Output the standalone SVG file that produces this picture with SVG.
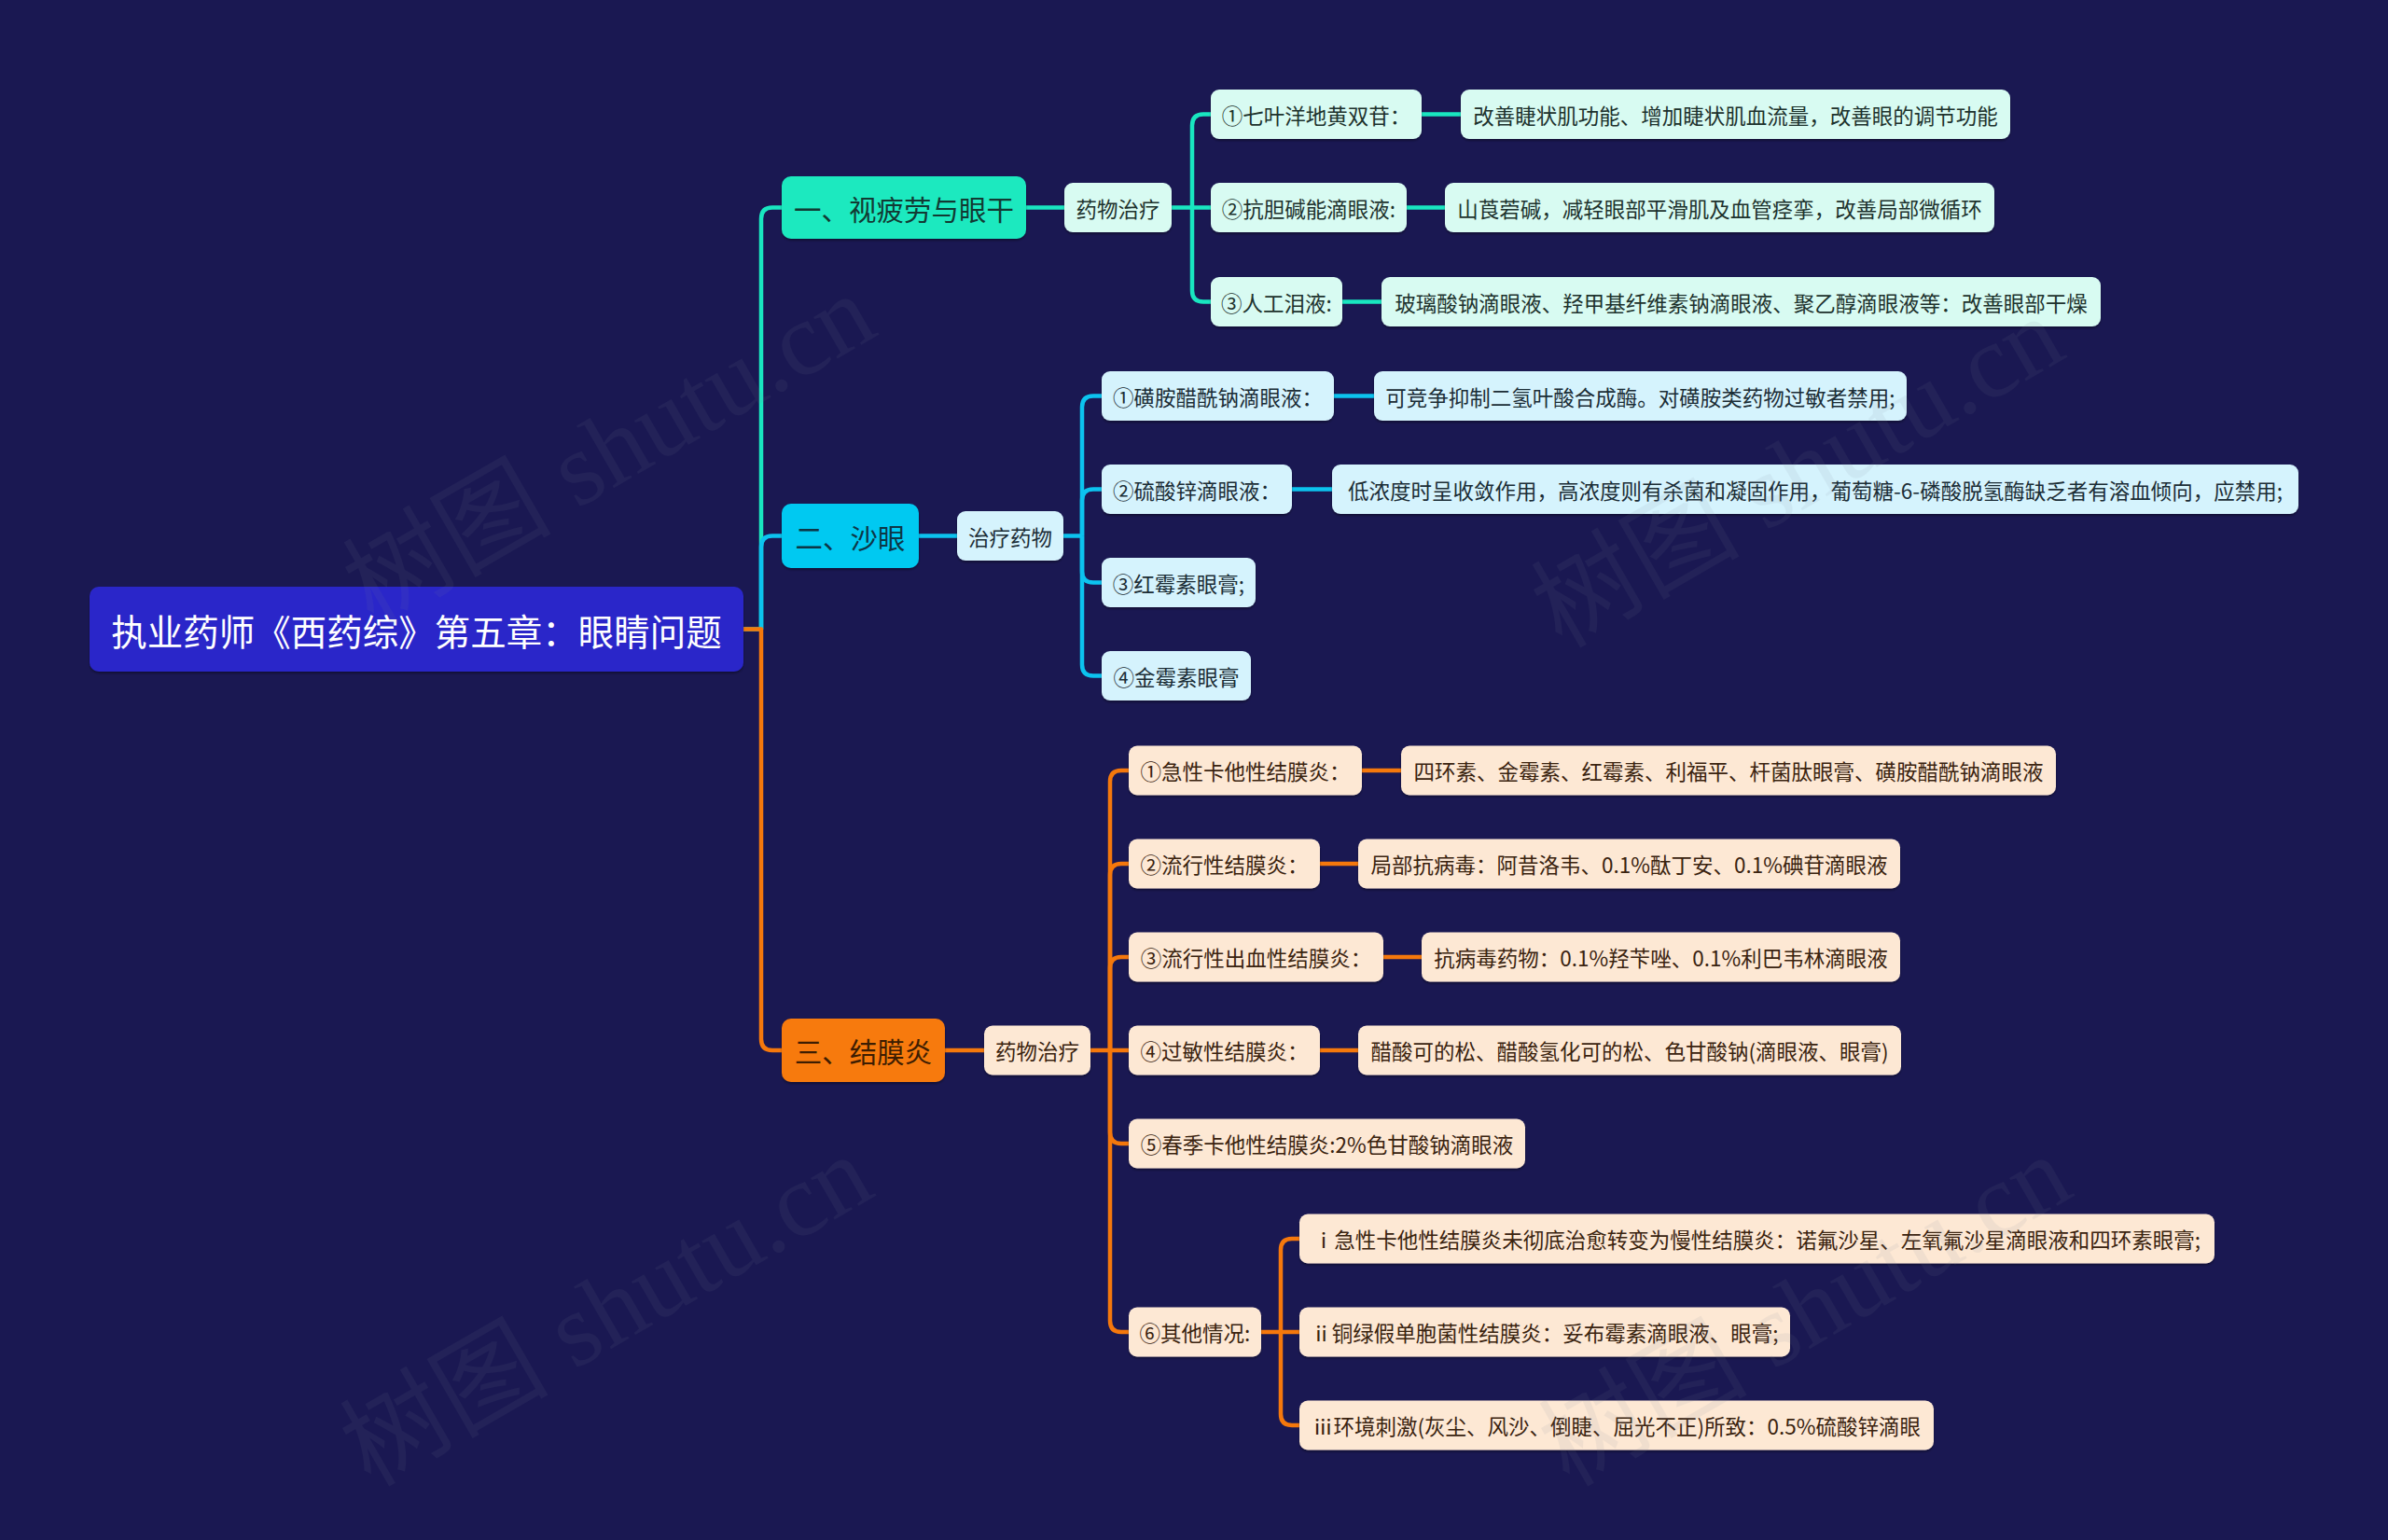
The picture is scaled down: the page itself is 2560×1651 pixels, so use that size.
<svg xmlns="http://www.w3.org/2000/svg" width="2560" height="1651" viewBox="0 0 2560 1651">
<defs>
<filter id="sh" x="-5%" y="-20%" width="110%" height="150%">
<feDropShadow dx="0" dy="2" stdDeviation="1.2" flood-color="#000" flood-opacity="0.35"/>
</filter>
<style>
text{font-family:"Noto Sans CJK SC","Noto Sans",sans-serif;text-anchor:middle;dominant-baseline:central}
.root rect{fill:#2b27c9}
.root text{fill:#ffffff;font-size:38.5px}
.l1 text{font-size:29.5px}
.n text{font-size:22.5px}
.b1 .l1 rect{fill:#1de9bf}.b1 .l1 text{fill:#123a33}
.b1 .n rect{fill:#d8fbf2}.b1 .n text{fill:#1d322d}
.b2 .l1 rect{fill:#04c9f1}.b2 .l1 text{fill:#0d3646}
.b2 .n rect{fill:#d5f3fd}.b2 .n text{fill:#1b2d36}
.b3 .l1 rect{fill:#f77a0b}.b3 .l1 text{fill:#3d1d02}
.b3 .n rect{fill:#fde8d4}.b3 .n text{fill:#3a230f}
.c path{fill:none;stroke-width:4.5;stroke-linecap:butt;stroke-linejoin:round}
.c1 path{stroke:#19e6c0}.c2 path{stroke:#0cc3ef}.c3 path{stroke:#f5780c}
.wm{font-family:"Liberation Serif","Noto Sans CJK SC",serif;font-size:112px;fill:#7a8496;opacity:0.09;text-anchor:middle;dominant-baseline:central}
</style>
</defs>
<rect x="0" y="0" width="2560" height="1651" fill="#1a1852"/>

<g id="connectors" class="c">
<g class="c1">
<path d="M797,674.5 H816 V234.5 Q816,222.5 828,222.5 H838"/>
<path d="M1100,222.5 H1141"/>
<path d="M1256,222.5 H1298"/>
<path d="M1278,222.5 V134.5 Q1278,122.5 1290,122.5 H1298"/>
<path d="M1278,222.5 V311.5 Q1278,323.5 1290,323.5 H1298"/>
<path d="M1524,122.5 H1566"/>
<path d="M1508,222.5 H1549"/>
<path d="M1439,323.5 H1481"/>
</g>
<g class="c2">
<path d="M816,674.5 V586.5 Q816,574.5 828,574.5 H838"/>
<path d="M985,574.5 H1026"/>
<path d="M1140,574.5 H1160"/>
<path d="M1160,574.5 V436.5 Q1160,424.5 1172,424.5 H1181"/>
<path d="M1160,574.5 V536.5 Q1160,524.5 1172,524.5 H1181"/>
<path d="M1160,574.5 V612.5 Q1160,624.5 1172,624.5 H1181"/>
<path d="M1160,574.5 V712.5 Q1160,724.5 1172,724.5 H1181"/>
<path d="M1430,424.5 H1473"/>
<path d="M1385,524.5 H1428"/>
</g>
<g class="c3">
<path d="M797,674.5 H816 V1114 Q816,1126 828,1126 H838"/>
<path d="M1013,1126 H1055"/>
<path d="M1169,1126 H1210"/>
<path d="M1190,1126 V838 Q1190,826 1202,826 H1210"/>
<path d="M1190,1126 V938 Q1190,926 1202,926 H1210"/>
<path d="M1190,1126 V1038 Q1190,1026 1202,1026 H1210"/>
<path d="M1190,1126 V1214 Q1190,1226 1202,1226 H1210"/>
<path d="M1190,1126 V1416 Q1190,1428 1202,1428 H1210"/>
<path d="M1460,826 H1502"/>
<path d="M1415,926 H1456"/>
<path d="M1483,1026 H1524"/>
<path d="M1415,1126 H1456"/>
<path d="M1352,1428 H1393"/>
<path d="M1373,1428 V1340 Q1373,1328 1385,1328 H1393"/>
<path d="M1373,1428 V1516 Q1373,1528 1385,1528 H1393"/>
</g>
</g>

<g id="root" class="root"><rect x="96" y="629" width="701" height="91" rx="10" filter="url(#sh)"/><text x="446.5" y="674.5">执业药师《西药综》第五章：眼睛问题</text></g>

<g class="b1">
<g id="b1" class="l1"><rect x="838" y="189" width="262" height="67" rx="10" filter="url(#sh)"/><text x="969" y="222.5">一、视疲劳与眼干</text></g>
<g id="b1-drug" class="n"><rect x="1141" y="196" width="115" height="53" rx="9" filter="url(#sh)"/><text x="1198.5" y="222.5">药物治疗</text></g>
<g id="b1-1" class="n"><rect x="1298" y="96" width="226" height="53" rx="9" filter="url(#sh)"/><text x="1411" y="122.5">①七叶洋地黄双苷：</text></g>
<g id="b1-1v" class="n"><rect x="1566" y="96" width="589" height="53" rx="9" filter="url(#sh)"/><text x="1860.5" y="122.5">改善睫状肌功能、增加睫状肌血流量，改善眼的调节功能</text></g>
<g id="b1-2" class="n"><rect x="1298" y="196" width="210" height="53" rx="9" filter="url(#sh)"/><text x="1403" y="222.5">②抗胆碱能滴眼液:</text></g>
<g id="b1-2v" class="n"><rect x="1549" y="196" width="589" height="53" rx="9" filter="url(#sh)"/><text x="1843.5" y="222.5">山莨菪碱，减轻眼部平滑肌及血管痉挛，改善局部微循环</text></g>
<g id="b1-3" class="n"><rect x="1298" y="297" width="141" height="53" rx="9" filter="url(#sh)"/><text x="1368.5" y="323.5">③人工泪液:</text></g>
<g id="b1-3v" class="n"><rect x="1481" y="297" width="771" height="53" rx="9" filter="url(#sh)"/><text x="1866.5" y="323.5">玻璃酸钠滴眼液、羟甲基纤维素钠滴眼液、聚乙醇滴眼液等：改善眼部干燥</text></g>
</g>

<g class="b2">
<g id="b2" class="l1"><rect x="838" y="540" width="147" height="69" rx="10" filter="url(#sh)"/><text x="911.5" y="574.5">二、沙眼</text></g>
<g id="b2-drug" class="n"><rect x="1026" y="548" width="114" height="53" rx="9" filter="url(#sh)"/><text x="1083" y="574.5">治疗药物</text></g>
<g id="b2-1" class="n"><rect x="1181" y="398" width="249" height="53" rx="9" filter="url(#sh)"/><text x="1305.5" y="424.5">①磺胺醋酰钠滴眼液：</text></g>
<g id="b2-1v" class="n"><rect x="1473" y="398" width="571" height="53" rx="9" filter="url(#sh)"/><text x="1758.5" y="424.5">可竞争抑制二氢叶酸合成酶。对磺胺类药物过敏者禁用;</text></g>
<g id="b2-2" class="n"><rect x="1181" y="498" width="204" height="53" rx="9" filter="url(#sh)"/><text x="1283" y="524.5">②硫酸锌滴眼液：</text></g>
<g id="b2-2v" class="n"><rect x="1428" y="498" width="1036" height="53" rx="9" filter="url(#sh)"/><text x="1946" y="524.5">低浓度时呈收敛作用，高浓度则有杀菌和凝固作用，葡萄糖-6-磷酸脱氢酶缺乏者有溶血倾向，应禁用;</text></g>
<g id="b2-3" class="n"><rect x="1181" y="598" width="165" height="53" rx="9" filter="url(#sh)"/><text x="1263.5" y="624.5">③红霉素眼膏;</text></g>
<g id="b2-4" class="n"><rect x="1181" y="698" width="160" height="53" rx="9" filter="url(#sh)"/><text x="1261" y="724.5">④金霉素眼膏</text></g>
</g>

<g class="b3">
<g id="b3" class="l1"><rect x="838" y="1092" width="175" height="68" rx="10" filter="url(#sh)"/><text x="925.5" y="1126">三、结膜炎</text></g>
<g id="b3-drug" class="n"><rect x="1055" y="1099.5" width="114" height="53" rx="9" filter="url(#sh)"/><text x="1112" y="1126">药物治疗</text></g>
<g id="b3-1" class="n"><rect x="1210" y="799.5" width="250" height="53" rx="9" filter="url(#sh)"/><text x="1335" y="826">①急性卡他性结膜炎：</text></g>
<g id="b3-1v" class="n"><rect x="1502" y="799.5" width="702" height="53" rx="9" filter="url(#sh)"/><text x="1853" y="826">四环素、金霉素、红霉素、利福平、杆菌肽眼膏、磺胺醋酰钠滴眼液</text></g>
<g id="b3-2" class="n"><rect x="1210" y="899.5" width="205" height="53" rx="9" filter="url(#sh)"/><text x="1312.5" y="926">②流行性结膜炎：</text></g>
<g id="b3-2v" class="n"><rect x="1456" y="899.5" width="581" height="53" rx="9" filter="url(#sh)"/><text x="1746.5" y="926">局部抗病毒：阿昔洛韦、0.1%酞丁安、0.1%碘苷滴眼液</text></g>
<g id="b3-3" class="n"><rect x="1210" y="999.5" width="273" height="53" rx="9" filter="url(#sh)"/><text x="1346.5" y="1026">③流行性出血性结膜炎：</text></g>
<g id="b3-3v" class="n"><rect x="1524" y="999.5" width="513" height="53" rx="9" filter="url(#sh)"/><text x="1780.5" y="1026">抗病毒药物：0.1%羟苄唑、0.1%利巴韦林滴眼液</text></g>
<g id="b3-4" class="n"><rect x="1210" y="1099.5" width="205" height="53" rx="9" filter="url(#sh)"/><text x="1312.5" y="1126">④过敏性结膜炎：</text></g>
<g id="b3-4v" class="n"><rect x="1456" y="1099.5" width="582" height="53" rx="9" filter="url(#sh)"/><text x="1747" y="1126">醋酸可的松、醋酸氢化可的松、色甘酸钠(滴眼液、眼膏)</text></g>
<g id="b3-5" class="n"><rect x="1210" y="1199.5" width="425" height="53" rx="9" filter="url(#sh)"/><text x="1422.5" y="1226">⑤春季卡他性结膜炎:2%色甘酸钠滴眼液</text></g>
<g id="b3-6" class="n"><rect x="1210" y="1401.5" width="142" height="53" rx="9" filter="url(#sh)"/><text x="1281" y="1428">⑥其他情况:</text></g>
<g id="b3-6a" class="n"><rect x="1393" y="1301.5" width="981" height="53" rx="9" filter="url(#sh)"/><text x="1883.5" y="1328">ⅰ急性卡他性结膜炎未彻底治愈转变为慢性结膜炎：诺氟沙星、左氧氟沙星滴眼液和四环素眼膏;</text></g>
<g id="b3-6b" class="n"><rect x="1393" y="1401.5" width="526" height="53" rx="9" filter="url(#sh)"/><text x="1656" y="1428">ⅱ铜绿假单胞菌性结膜炎：妥布霉素滴眼液、眼膏;</text></g>
<g id="b3-6c" class="n"><rect x="1393" y="1501.5" width="680" height="53" rx="9" filter="url(#sh)"/><text x="1733" y="1528">ⅲ环境刺激(灰尘、风沙、倒睫、屈光不正)所致：0.5%硫酸锌滴眼</text></g>
</g>

<g id="watermark">
<text class="wm" transform="translate(653,482) rotate(-30)">树图 shutu.cn</text>
<text class="wm" transform="translate(1927,506) rotate(-30)">树图 shutu.cn</text>
<text class="wm" transform="translate(650,1405) rotate(-30)">树图 shutu.cn</text>
<text class="wm" transform="translate(1935,1405) rotate(-30)">树图 shutu.cn</text>
</g>
</svg>
